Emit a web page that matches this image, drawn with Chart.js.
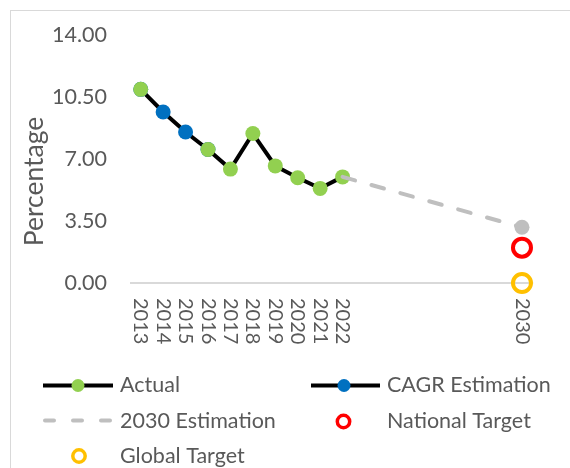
<!DOCTYPE html>
<html>
<head>
<meta charset="utf-8">
<script src="https://cdn.jsdelivr.net/npm/chart.js@4.4.1/dist/chart.umd.min.js"></script>
<style>
  html, body { margin: 0; padding: 0; background: #ffffff; }
  #wrap { width: 570px; height: 468px; position: relative; }
</style>
</head>
<body>
<div id="wrap"><canvas id="c" width="570" height="468"></canvas></div>
<script>
// ---- data ----
const years = [2013, 2014, 2015, 2016, 2017, 2018, 2019, 2020, 2021, 2022];
const actual = [10.95, null, null, 7.55, 6.44, 8.45, 6.62, 5.95, 5.35, 6.00];
const cagrEstimation = [10.95, 9.67, 8.54, 7.55, null, null, null, null, null, null];
const estimationYears = [2022, 2030];
const estimation2030 = [6.00, 3.15];
const targetYears = [2030];
const nationalTarget = [2.0];
const globalTarget = [0.0];
const xTickYears = [2013, 2014, 2015, 2016, 2017, 2018, 2019, 2020, 2021, 2022, 2030];
const xTickLabels = ['2013', '2014', '2015', '2016', '2017', '2018', '2019', '2020', '2021', '2022', '2030'];
const yTicks = [0, 3.5, 7, 10.5, 14];
const yTickLabels = ['0.00', '3.50', '7.00', '10.50', '14.00'];
const yTitle = 'Percentage';
const seriesNames = ['Actual', 'CAGR Estimation', '2030 Estimation', 'National Target', 'Global Target'];

const toPts = (xs, ys) => xs.map((x, i) => ({ x: x, y: ys[i] }));

const TEXT = '#595959';
const GREEN = '#92D050', BLUE = '#0070C0', GRAY = '#BFBFBF', RED = '#FF0000', YELLOW = '#FFC000';

const datasets = [
  { label: seriesNames[2], data: toPts(estimationYears, estimation2030), order: 0,
    borderColor: GRAY, borderWidth: 4, borderDash: [13, 17], borderCapStyle: 'round',
    pointRadius: [0, 7.5], pointBackgroundColor: GRAY, pointBorderWidth: 0, clip: false },
  { label: seriesNames[0], data: toPts(years, actual), order: 1,
    borderColor: '#000000', borderWidth: 4, spanGaps: false,
    pointRadius: 7.5, pointBackgroundColor: GREEN, pointBorderWidth: 0, clip: false },
  { label: seriesNames[1], data: toPts(years, cagrEstimation), order: 2,
    borderColor: '#000000', borderWidth: 4, spanGaps: false,
    pointRadius: 7.5, pointBackgroundColor: BLUE, pointBorderWidth: 0, clip: false },
  { label: seriesNames[3], data: toPts(targetYears, nationalTarget), order: 0, showLine: false,
    borderColor: RED, pointRadius: 9, pointBorderWidth: 4, pointBorderColor: RED,
    pointBackgroundColor: 'rgba(255,255,255,0)', clip: false },
  { label: seriesNames[4], data: toPts(targetYears, globalTarget), order: 0, showLine: false,
    borderColor: YELLOW, pointRadius: 9, pointBorderWidth: 4, pointBorderColor: YELLOW,
    pointBackgroundColor: 'rgba(255,255,255,0)', clip: false }
];

const decorPlugin = {
  id: 'decor',
  beforeDraw(chart) {
    const ctx = chart.ctx;
    ctx.save();
    ctx.strokeStyle = '#D9D9D9';
    ctx.lineWidth = 1;
    ctx.strokeRect(10.5, 10.5, 800, 800);
    ctx.restore();
  },
  afterDraw(chart) {
    const ctx = chart.ctx;
    const xs = chart.scales.x;
    ctx.save();
    ctx.fillStyle = TEXT;
    // x labels rotated clockwise
    ctx.font = '20px Lato';
    ctx.textAlign = 'left';
    ctx.textBaseline = 'middle';
    xTickYears.forEach((yr, i) => {
      const px = xs.getPixelForValue(yr);
      ctx.save();
      ctx.translate(px, 298);
      ctx.rotate(Math.PI / 2);
      ctx.fillText(xTickLabels[i], 0, 0);
      ctx.restore();
    });
    // y title
    ctx.save();
    ctx.font = '26.5px Lato';
    ctx.textAlign = 'center';
    ctx.textBaseline = 'alphabetic';
    ctx.translate(43, 181.5);
    ctx.rotate(-Math.PI / 2);
    ctx.fillText(yTitle, 0, 0);
    ctx.restore();

    // legend
    const items = [
      { name: seriesNames[0], type: 'lineDot', color: GREEN, lx: 43, lx2: 113, mx: 78, tx: 120, base: 392, cy: 385.5 },
      { name: seriesNames[1], type: 'lineDot', color: BLUE, lx: 311, lx2: 380, mx: 344, tx: 387, base: 392, cy: 385.5 },
      { name: seriesNames[2], type: 'dash', color: GRAY, lx: 43, lx2: 113, mx: 78, tx: 120, base: 428, cy: 420.5 },
      { name: seriesNames[3], type: 'ring', color: RED, mx: 343.5, tx: 387, base: 428, cy: 421.5 },
      { name: seriesNames[4], type: 'ring', color: YELLOW, mx: 79, tx: 120, base: 463, cy: 456 }
    ];
    items.forEach(it => {
      ctx.save();
      if (it.type === 'lineDot') {
        ctx.strokeStyle = '#000000';
        ctx.lineWidth = 4;
        ctx.beginPath(); ctx.moveTo(it.lx, it.cy); ctx.lineTo(it.lx2, it.cy); ctx.stroke();
        ctx.fillStyle = it.color;
        ctx.beginPath(); ctx.arc(it.mx, it.cy, 6.5, 0, Math.PI * 2); ctx.fill();
      } else if (it.type === 'dash') {
        ctx.strokeStyle = it.color;
        ctx.lineWidth = 4;
        ctx.lineCap = 'round';
        ctx.setLineDash([9, 19]);
        ctx.beginPath(); ctx.moveTo(it.lx + 2, it.cy); ctx.lineTo(it.lx2, it.cy); ctx.stroke();
      } else {
        ctx.strokeStyle = it.color;
        ctx.lineWidth = 3.5;
        ctx.beginPath(); ctx.arc(it.mx, it.cy, 6.2, 0, Math.PI * 2); ctx.stroke();
      }
      ctx.restore();
      ctx.font = '21.5px Lato';
      ctx.textAlign = 'left';
      ctx.textBaseline = 'alphabetic';
      ctx.fillStyle = TEXT;
      ctx.fillText(it.name, it.tx, it.base);
    });
    ctx.restore();
  }
};

new Chart(document.getElementById('c'), {
  type: 'line',
  data: { datasets: datasets },
  options: {
    responsive: false,
    animation: false,
    devicePixelRatio: 1,
    events: [],
    layout: { padding: { left: 0, top: 35, right: 36.8, bottom: 0 } },
    plugins: { legend: { display: false }, tooltip: { enabled: false }, title: { display: false } },
    scales: {
      x: {
        type: 'linear', min: 2012.5, max: 2030.5,
        grid: { display: false }, border: { display: false },
        ticks: { display: false },
        afterFit(s) { s.height = 185; }
      },
      y: {
        type: 'linear', min: 0, max: 14,
        afterBuildTicks(s) { s.ticks = yTicks.map(v => ({ value: v })); },
        ticks: {
          padding: 22.5, color: TEXT, font: { family: 'Lato', size: 21.5 },
          callback: (v) => yTickLabels[yTicks.indexOf(v)]
        },
        grid: {
          drawTicks: false, lineWidth: 2,
          color: (c) => (c.tick && c.tick.value === 0) ? '#D9D9D9' : 'rgba(0,0,0,0)'
        },
        border: { display: false },
        afterFit(s) { s.width = 129.5; }
      }
    }
  },
  plugins: [decorPlugin]
});
</script>
</body>
</html>
